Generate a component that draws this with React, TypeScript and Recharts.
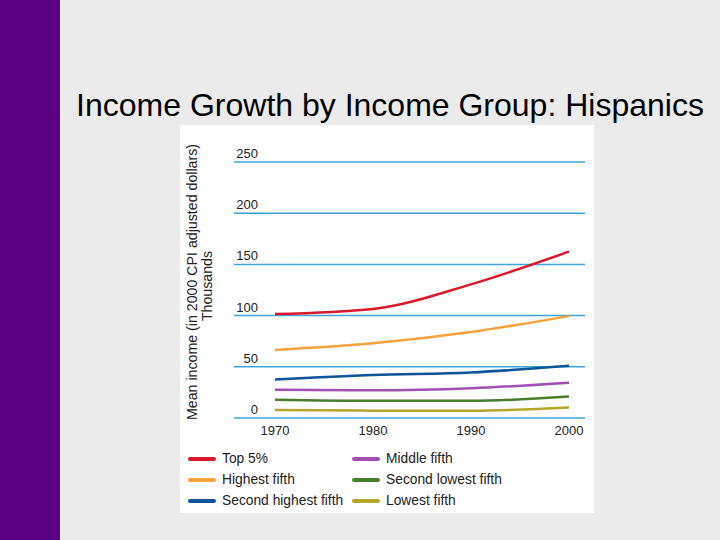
import React from 'react';
import { LineChart, Line, XAxis, YAxis, CartesianGrid } from 'recharts';

const years = [1970, 1980, 1990, 2000];
const top5 = [101.5, 106.5, 130.5, 162.5];
const highestFifth = [66.5, 73, 84, 99.5];
const secondHighestFifth = [37.5, 42, 44.5, 51];
const middleFifth = [27.5, 27, 29, 34.5];
const secondLowestFifth = [17.8, 16.8, 16.8, 21];
const lowestFifth = [7.9, 7.2, 7.2, 10.2];
const yTicks = [0, 50, 100, 150, 200, 250];

const SERIES = [
  { key: 'top5', name: 'Top 5%', values: top5, color: '#d9182b' },
  { key: 'highest', name: 'Highest fifth', values: highestFifth, color: '#f5a23c' },
  { key: 'secondHighest', name: 'Second highest fifth', values: secondHighestFifth, color: '#0d5499' },
  { key: 'middle', name: 'Middle fifth', values: middleFifth, color: '#a24fb2' },
  { key: 'secondLowest', name: 'Second lowest fifth', values: secondLowestFifth, color: '#4b7d2f' },
  { key: 'lowest', name: 'Lowest fifth', values: lowestFifth, color: '#b5a62a' },
];

const chartData = years.map((year, i) => {
  const row: Record<string, number> = { year };
  SERIES.forEach(s => {
    row[s.key] = s.values[i];
  });
  return row;
});

const FONT = '"Liberation Sans", Arial, Helvetica, sans-serif';

const YTick = ({ y, payload }: any) => (
  <text x={78} y={y - 4} textAnchor="end" fontSize={13} fill="#222" fontFamily={FONT}>
    {payload.value}
  </text>
);

const App: React.FC = () => {
  const legendCols = [SERIES.slice(0, 3), SERIES.slice(3)];
  return (
    <div
      style={{
        position: 'absolute',
        left: 0,
        top: 0,
        width: 720,
        height: 540,
        background: '#ebebeb',
        fontFamily: FONT,
        overflow: 'hidden',
      }}
    >
      <div style={{ position: 'absolute', left: 0, top: 0, width: 60, height: 540, background: '#5b0080' }} />
      <div
        style={{
          position: 'absolute',
          left: 60,
          width: 660,
          top: 87,
          textAlign: 'center',
          fontSize: 32,
          color: '#000',
          whiteSpace: 'nowrap',
        }}
      >
        Income Growth by Income Group: Hispanics
      </div>

      <div style={{ position: 'absolute', left: 180, top: 125, width: 414, height: 388, background: '#fff' }}>
        <LineChart
          width={414}
          height={325}
          data={chartData}
          margin={{ top: 37, right: 9, left: 0, bottom: 0 }}
        >
          <CartesianGrid vertical={false} stroke="#3ea4da" strokeWidth={1.5} />
          <XAxis
            dataKey="year"
            type="number"
            domain={[1970, 2000]}
            ticks={years}
            padding={{ left: 41, right: 16 }}
            axisLine={false}
            tickLine={false}
            height={32}
            tick={{ fontSize: 13, fill: '#222', fontFamily: FONT }}
          />
          <YAxis
            domain={[0, 250]}
            ticks={yTicks}
            width={54}
            axisLine={false}
            tickLine={false}
            tick={<YTick />}
          />
          {SERIES.map(s => (
            <Line
              key={s.key}
              dataKey={s.key}
              name={s.name}
              type="monotone"
              stroke={s.color}
              strokeWidth={2.5}
              dot={false}
              isAnimationActive={false}
            />
          ))}
        </LineChart>

        <div style={{ position: 'absolute', left: 12, top: 157, width: 0, height: 0 }}>
          <div
            style={{
              position: 'absolute',
              transform: 'translate(-50%, -50%) rotate(-90deg)',
              whiteSpace: 'nowrap',
              fontSize: 14.2,
              color: '#222',
              left: 0,
              top: 0,
            }}
          >
            Mean income (in 2000 CPI adjusted dollars)
          </div>
          <div
            style={{
              position: 'absolute',
              transform: 'translate(-50%, -50%) rotate(-90deg)',
              whiteSpace: 'nowrap',
              fontSize: 14.2,
              color: '#222',
              left: 15,
              top: 4,
            }}
          >
            Thousands
          </div>
        </div>

        {legendCols.map((col, ci) => (
          <div key={ci} style={{ position: 'absolute', left: ci === 0 ? 8 : 172, top: 323 }}>
            {col.map(s => (
              <div key={s.key} style={{ display: 'flex', alignItems: 'center', height: 21 }}>
                <div
                  style={{
                    width: 28,
                    height: 4,
                    borderRadius: 2,
                    background: s.color,
                    marginRight: 6,
                  }}
                />
                <span style={{ fontSize: 13.8, color: '#222' }}>{s.name}</span>
              </div>
            ))}
          </div>
        ))}
      </div>
    </div>
  );
};

export default App;
